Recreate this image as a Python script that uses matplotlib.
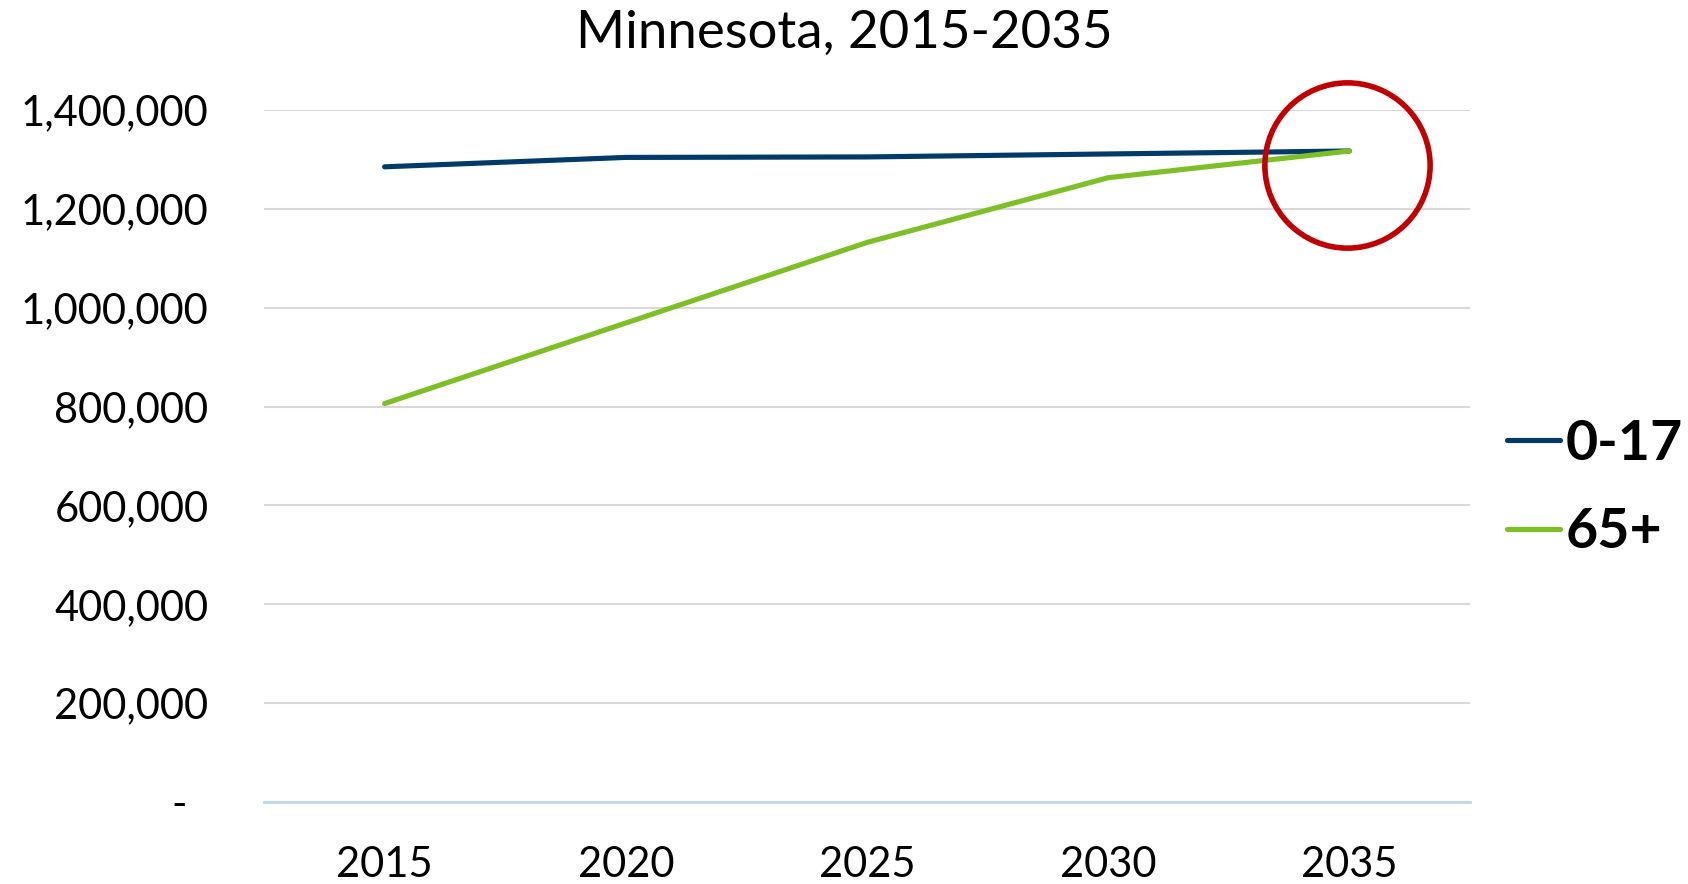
import numpy as np
import matplotlib.pyplot as plt

plt.rcParams['font.family'] = ['Lato', 'DejaVu Sans']

years = ['2015', '2020', '2025', '2030', '2035']
kids = [1285000, 1304000, 1305000, 1311000, 1317000]
seniors = [806000, 969000, 1132000, 1263000, 1317000]
yticks = [0, 200000, 400000, 600000, 800000, 1000000, 1200000, 1400000]

fig = plt.figure(figsize=(16.88, 8.84), dpi=100)
ax = fig.add_axes([0.1564, 0.0928, 0.7145, 0.7828])

x = np.arange(len(years))
ax.plot(x, kids, color='#003A68', lw=3.7, solid_capstyle='round', label='0-17', zorder=3)
ax.plot(x, seniors, color='#7CBF27', lw=3.7, solid_capstyle='round', label='65+', zorder=3)

# red highlight circle around 2035
ax.plot([3.99], [1289000], marker='o', markersize=119, markerfacecolor='none',
        markeredgecolor='#C00000', markeredgewidth=4.0, clip_on=False, zorder=4)

ax.set_xlim(-0.5, 4.5)
ax.set_ylim(0, 1400000)
ax.set_xticks(x)
ax.set_xticklabels(years)
ax.set_yticks(yticks)
ax.set_yticklabels([f'{v:,.0f}' if v else '-  ' for v in yticks])
ax.tick_params(axis='y', length=0, pad=40, labelsize=30)
ax.tick_params(axis='x', length=0, pad=32, labelsize=30)

ax.grid(axis='y', color='#D9D9D9', lw=1.5)
ax.set_axisbelow(True)
for s in ['top', 'right', 'left']:
    ax.spines[s].set_visible(False)
ax.spines['bottom'].set_color('#BDD7EE')
ax.spines['bottom'].set_linewidth(2)

fig.text(0.5, 0.962, 'Minnesota, 2015-2035', ha='center', va='center', fontsize=38)

leg = fig.legend(loc='center left', bbox_to_anchor=(0.893, 0.448), frameon=False,
                 prop={'weight': 'bold', 'size': 40}, handlelength=0.95,
                 handletextpad=0.1, labelspacing=0.7, borderpad=0, borderaxespad=0)
for h in leg.get_lines():
    h.set_linewidth(3.7)

fig.savefig('out.png', dpi=100)
